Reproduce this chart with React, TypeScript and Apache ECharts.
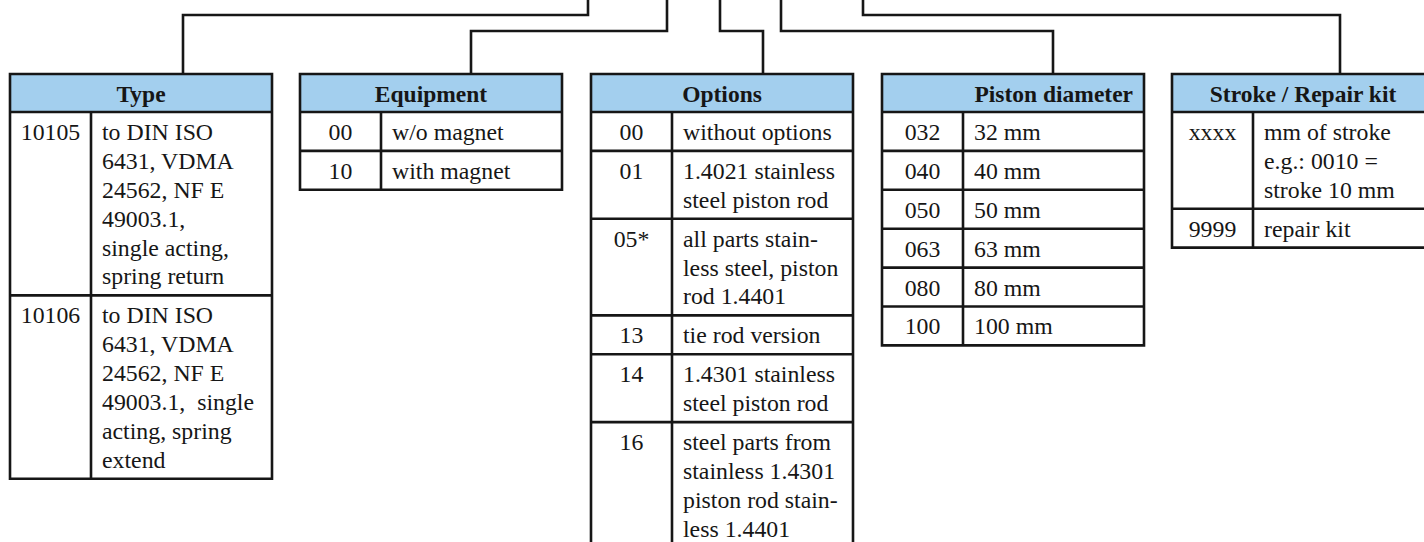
import React, { useEffect, useRef } from "react";
import * as echarts from "echarts";

const headers = ["Type", "Equipment", "Options", "Piston diameter", "Stroke / Repair kit"];
const headerAlign = ["center", "center", "center", "right", "center"];

const typeCodes = ["10105", "10106"];
const typeTexts = [
  ["to DIN ISO", "6431, VDMA", "24562, NF E", "49003.1,", "single acting,", "spring return"],
  ["to DIN ISO", "6431, VDMA", "24562, NF E", "49003.1,  single", "acting, spring", "extend"],
];
const equipmentCodes = ["00", "10"];
const equipmentTexts = [["w/o magnet"], ["with magnet"]];
const optionCodes = ["00", "01", "05*", "13", "14", "16"];
const optionTexts = [
  ["without options"],
  ["1.4021 stainless", "steel piston rod"],
  ["all parts stain-", "less steel, piston", "rod 1.4401"],
  ["tie rod version"],
  ["1.4301 stainless", "steel piston rod"],
  ["steel parts from", "stainless 1.4301", "piston rod stain-", "less 1.4401"],
];
const pistonCodes = ["032", "040", "050", "063", "080", "100"];
const pistonTexts = [["32 mm"], ["40 mm"], ["50 mm"], ["63 mm"], ["80 mm"], ["100 mm"]];
const strokeCodes = ["xxxx", "9999"];
const strokeTexts = [["mm of stroke", "e.g.: 0010 =", "stroke 10 mm"], ["repair kit"]];

const allCodes = [typeCodes, equipmentCodes, optionCodes, pistonCodes, strokeCodes];
const allTexts = [typeTexts, equipmentTexts, optionTexts, pistonTexts, strokeTexts];

// layout
const tableX = [10, 300, 591, 882, 1172];
const tableW = 262;
const codeW = 81;
const top = 74;
const headerH = 38;
const lineH = 28.9;
const pad = 10;
const LW = 2.6;
const INK = "#161616";
const HEAD = "#A3CFEE";
const FAMILY = "Liberation Serif";
const FS = 23.8;
const FS_HEAD = 23.5;

// connectors: [topX, levelY, tableAttachX]
const connectors = [
  [588, 15, 183],
  [667, 31, 471],
  [720, 31, 763],
  [781, 31, 1053],
  [863, 15, 1340],
];

function txt(x: number, y: number, text: string, align: string, bold = false) {
  return {
    type: "text",
    x,
    y,
    style: {
      text,
      fill: INK,
      fontFamily: FAMILY,
      fontSize: bold ? FS_HEAD : FS,
      fontWeight: bold ? "bold" : "normal",
      lineHeight: 22,
      align,
      verticalAlign: "middle",
    },
    z: 5,
  };
}

function buildElements() {
  const els: any[] = [];
  connectors.forEach(([tx, ly, ax]) => {
    els.push({
      type: "polyline",
      shape: { points: [[tx, -2], [tx, ly], [ax, ly], [ax, top]] },
      style: { stroke: INK, lineWidth: LW, fill: null, lineJoin: "miter" },
      z: 1,
    });
  });
  headers.forEach((h, t) => {
    const x = tableX[t];
    const codes = allCodes[t];
    const texts = allTexts[t];
    const heights = texts.map((lines) => lines.length * lineH + pad);
    const bodyH = heights.reduce((a, b) => a + b, 0);
    const bottom = top + headerH + bodyH;
    els.push({
      type: "rect",
      shape: { x, y: top, width: tableW, height: headerH },
      style: { fill: HEAD, stroke: null },
      z: 2,
    });
    const align = headerAlign[t];
    els.push(txt(align === "right" ? x + tableW - 11 : x + tableW / 2, top + headerH / 2 + 1, h, align, true));
    els.push({
      type: "rect",
      shape: { x, y: top, width: tableW, height: bottom - top },
      style: { fill: null, stroke: INK, lineWidth: LW },
      z: 4,
    });
    els.push({
      type: "line",
      shape: { x1: x, y1: top + headerH, x2: x + tableW, y2: top + headerH },
      style: { stroke: INK, lineWidth: LW },
      z: 4,
    });
    els.push({
      type: "line",
      shape: { x1: x + codeW, y1: top + headerH, x2: x + codeW, y2: bottom },
      style: { stroke: INK, lineWidth: LW },
      z: 4,
    });
    let ry = top + headerH;
    texts.forEach((lines, r) => {
      els.push(txt(x + codeW / 2, ry + pad / 2 + lineH / 2 + 0.5, codes[r], "center"));
      lines.forEach((ln, i) => {
        els.push(txt(x + codeW + 11, ry + pad / 2 + lineH / 2 + i * lineH + 0.5, ln, "left"));
      });
      ry += heights[r];
      if (r < texts.length - 1) {
        els.push({
          type: "line",
          shape: { x1: x, y1: ry, x2: x + tableW, y2: ry },
          style: { stroke: INK, lineWidth: LW },
          z: 4,
        });
      }
    });
  });
  return els;
}

export default function App() {
  const ref = useRef<HTMLDivElement>(null);
  useEffect(() => {
    document.body.style.margin = "0";
    const chart = echarts.init(ref.current!, null, { renderer: "svg" });
    chart.setOption({
      animation: false,
      backgroundColor: "#ffffff",
      graphic: { elements: buildElements() },
    });
    return () => chart.dispose();
  }, []);
  return (
    <div
      ref={ref}
      style={{ position: "absolute", left: 0, top: 0, width: 1424, height: 542, background: "#fff" }}
    />
  );
}
